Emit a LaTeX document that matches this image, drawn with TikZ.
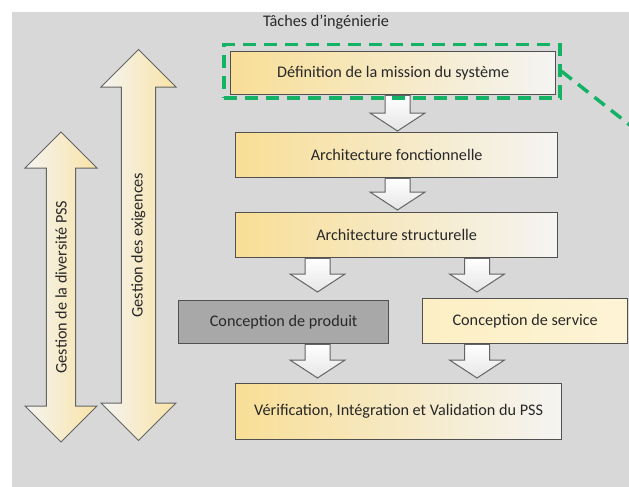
\documentclass[tikz,border=0pt]{standalone}
\usepackage{fontspec}
\setmainfont{Carlito}
\usetikzlibrary{shapes.arrows,calc}
\definecolor{bggray}{RGB}{216,216,216}
\definecolor{boxyel}{RGB}{248,222,150}
\definecolor{boxwhite}{RGB}{244,244,242}
\definecolor{prodgray}{RGB}{168,168,168}
\definecolor{servyel}{RGB}{253,239,196}
\definecolor{edge}{RGB}{80,80,80}
\definecolor{arredge}{RGB}{100,100,100}
\definecolor{dgreen}{RGB}{20,178,100}
\definecolor{txt}{RGB}{40,40,40}
% block arrow from node #1 (south) to node #2 (north) at the x of coordinate #3, tip #4 above #2
\newcommand\blockarrow[4]{%
  \draw[blk] ($(#1.south -| #3)+(-12.5,0)$) -- ($(#1.south -| #3)+(12.5,0)$)
    -- ($(#2.north -| #3)+(12.5,-18-#4)$) -- ($(#2.north -| #3)+(27.5,-18-#4)$)
    -- ($(#2.north -| #3)+(0,-#4)$) -- ($(#2.north -| #3)+(-27.5,-18-#4)$)
    -- ($(#2.north -| #3)+(-12.5,-18-#4)$) -- cycle;}
\begin{document}
\begin{tikzpicture}[x=1pt,y=-1pt,
  font=\fontsize{16.2}{18}\selectfont, text=txt,
  box/.style={draw=edge, line width=1.3pt, left color=boxyel, right color=boxwhite, inner sep=0, anchor=north west},
  blk/.style={draw=arredge, line width=1pt, top color=white, bottom color=white!90!black},
  dblarrow/.style={double arrow, rotate=90, draw=arredge, line width=1pt,
    right color=boxyel!85!white, left color=boxwhite, double arrow head extend=9,
    double arrow tip angle=90, inner sep=0},
  gdash/.style={draw=dgreen, line width=3.5pt, dash pattern=on 13pt off 8pt}
]
\useasboundingbox (0,0) rectangle (629,487);
\fill[bggray] (12,12) rectangle (629,487);

% left double arrows
\node[dblarrow, minimum height=310, minimum width=72] (div) at (61,287) {Gestion de la diversité PSS};
\node[dblarrow, minimum height=391, minimum width=75] (exi) at (138.5,245) {Gestion des exigences};

% title
\node[inner sep=0] (title) at (326,22) {Tâches d'ingénierie};

% boxes
\node[box, minimum width=325, minimum height=43] (def) at (230,51) {Définition de la mission du système};
\node[box, minimum width=322, minimum height=45] (af) at (235,132) {Architecture fonctionnelle};
\node[box, minimum width=322, minimum height=45] (as) at (235,212) {Architecture structurelle};
\node[box, left color=prodgray, right color=prodgray, minimum width=210, minimum height=43] (prod) at (178,300) {Conception de produit};
\node[box, left color=servyel, right color=servyel!70!white, minimum width=205, minimum height=45] (serv) at (422,298) {Conception de service};
\node[box, minimum width=326, minimum height=56] (ver) at (235,383) {Vérification, Intégration et Validation du PSS};

% x positions of the block arrows
\coordinate (xm) at (397.5,0);
\coordinate (xl) at (317.5,0);
\coordinate (xr) at (477,0);

\blockarrow{def}{af}{xm}{1}
\blockarrow{af}{as}{xm}{2}
\blockarrow{as}{prod}{xl}{8}
\blockarrow{as}{serv}{xr}{6}
\blockarrow{prod}{ver}{xl}{5}
\blockarrow{serv}{ver}{xr}{5}

% green dashed focus
\node[gdash, minimum width=336, minimum height=53, inner sep=0, anchor=north west] (focus) at (222,43) {};
\coordinate (out) at (645,137);
\draw[gdash] (focus.east) -- (out);
\end{tikzpicture}
\end{document}
